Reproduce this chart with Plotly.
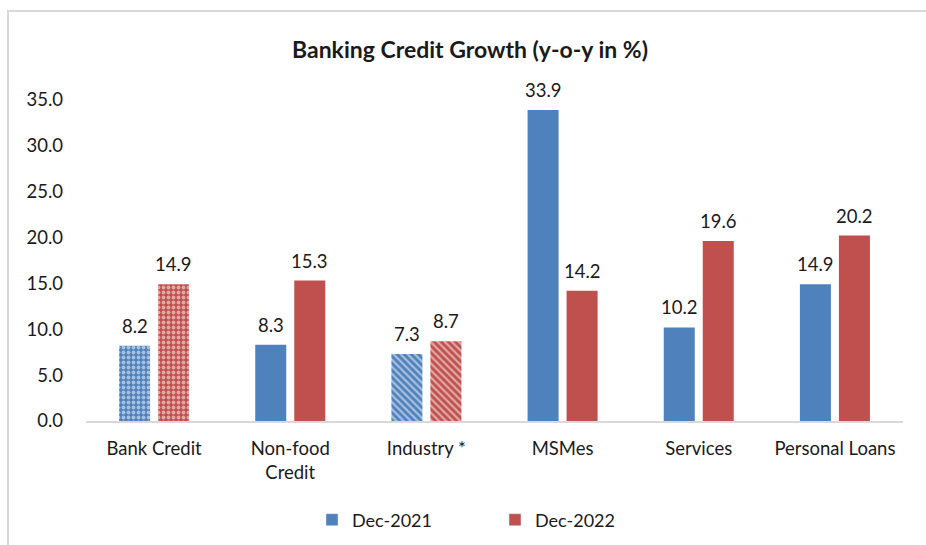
import plotly.graph_objects as go

categories = ["Bank Credit", "Non-food<br>Credit", "Industry *", "MSMes", "Services", "Personal Loans"]
dec_2021 = [8.2, 8.3, 7.3, 33.9, 10.2, 14.9]
dec_2022 = [14.9, 15.3, 8.7, 14.2, 19.6, 20.2]
patterns = [".", "", "\\", "", "", ""]
pattern_solidity = [0.45, 0.3, 0.45, 0.3, 0.3, 0.3]
y_ticks = [0, 5, 10, 15, 20, 25, 30, 35]

COLORS = {"blue": "#4F81BD", "red": "#C0504D", "frame": "#D9D9D9", "text": "#1A1A1A"}
FONT = "Lato, Open Sans, sans-serif"

W, H = 926, 545
BAR_SHIFT = 19.5  # px from category centre to each bar centre

fig = go.Figure()
series = [("Dec-2021", dec_2021, COLORS["blue"], "a", -BAR_SHIFT),
          ("Dec-2022", dec_2022, COLORS["red"], "b", BAR_SHIFT)]
for name, vals, col, grp, shift in series:
    fig.add_trace(go.Bar(
        name=name, x=categories, y=vals, showlegend=False, offsetgroup=grp,
        marker=dict(
            color=col,
            line=dict(width=0),
            pattern=dict(shape=patterns, fgcolor="white", size=5, solidity=pattern_solidity),
        ),
        hovertemplate="%{y:.1f}<extra>" + name + "</extra>",
    ))
    for cat, v in zip(categories, vals):
        fig.add_annotation(x=cat, y=v, xref="x", yref="y", text=f"{v:.1f}", showarrow=False,
                           xshift=shift, yshift=7, yanchor="bottom",
                           font=dict(size=18.5, color=COLORS["text"], family=FONT))

# plain legend swatches (the real traces carry patterns on some bars)
for name, vals, col, grp, shift in series:
    fig.add_trace(go.Bar(name=name, x=[categories[0]], y=[None], marker_color=col, offsetgroup=grp))

fig.update_layout(
    width=W, height=H,
    barmode="group", bargap=0.427, bargroupgap=0.205,
    margin=dict(l=0, r=0, t=0, b=0, autoexpand=False),
    plot_bgcolor="white", paper_bgcolor="white",
    font=dict(family=FONT, size=18.5, color=COLORS["text"]),
    title=dict(text="<b>Banking Credit Growth (y-o-y in %)</b>", x=470 / W, xanchor="center",
               y=1 - 50 / H, yanchor="middle", font=dict(size=23, family=FONT)),
    legend=dict(orientation="h", x=312 / W, xanchor="left", y=1 - 520 / H, yanchor="middle",
                entrywidth=138, entrywidthmode="pixels", font=dict(size=18),
                traceorder="normal"),
    xaxis=dict(domain=[86 / W, 903 / W], showline=True, linecolor="#D9D9D9", linewidth=1.5,
               ticks="", tickfont=dict(size=18.5), ticklabelstandoff=10),
    yaxis=dict(domain=[1 - 421 / H, 1 - 75 / H], range=[0, 37.7], showgrid=False,
               zeroline=False, tickvals=y_ticks, tickformat=".1f", ticks="",
               tickfont=dict(size=18.5), ticklabelstandoff=22),
    shapes=[dict(type="rect", xref="paper", yref="paper", x0=8 / W, x1=1.05,
                 y0=-0.05, y1=1 - 11 / H, line=dict(color=COLORS["frame"], width=2))],
)

fig.write_html("out.html", config={"displayModeBar": False},
               post_script="document.body.style.margin='0px';")
